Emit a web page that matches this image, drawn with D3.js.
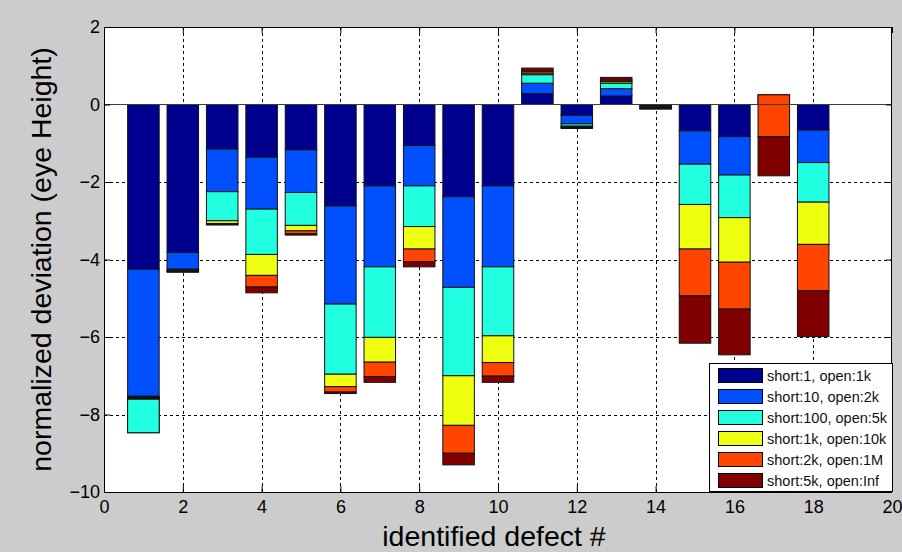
<!DOCTYPE html>
<html>
<head>
<meta charset="utf-8">
<script src="https://cdn.jsdelivr.net/npm/d3@7"></script>
<style>
  html, body { margin: 0; padding: 0; background: #cccccc; }
  svg { display: block; }
  text { font-family: "Liberation Sans", Arial, sans-serif; }
</style>
</head>
<body>
<svg id="chart" width="902" height="552"></svg>
<script>
// Defect indices (x positions of the stacked bars)
const defects = [1, 2, 3, 4, 5, 6, 7, 8, 9, 10, 11, 12, 13, 14, 15, 16, 17, 18];

// Series labels and their jet colours
const seriesNames = [
  "short:1, open:1k",
  "short:10, open:2k",
  "short:100, open:5k",
  "short:1k, open:10k",
  "short:2k, open:1M",
  "short:5k, open:Inf"
];
const seriesColors = ["#00008f", "#0050ff", "#20ffdf", "#efff10", "#ff4500", "#800000"];

// Per-series deviation values, one entry per defect (stacked cumulatively)
const s1 = [-4.25, -3.82, -1.15, -1.36, -1.17, -2.62, -2.10, -1.06, -2.38, -2.10, 0.28, -0.28, 0.22, -0.02, -0.68, -0.83, 0.25, -0.66];
const s2 = [-4.22, -0.43, -1.10, -1.34, -1.10, -2.53, -2.09, -1.04, -2.34, -2.09, 0.27, -0.22, 0.19, -0.02, -0.86, -0.99, 0.00, -0.84];
const s3 = [0.94, -0.02, -0.75, -1.17, -0.85, -1.81, -1.82, -1.05, -2.28, -1.78, 0.22, -0.06, 0.14, -0.02, -1.04, -1.10, 0.00, -1.02];
const s4 = [-0.025, -0.02, -0.07, -0.54, -0.14, -0.32, -0.64, -0.58, -1.28, -0.69, 0.04, -0.02, 0.04, -0.02, -1.15, -1.15, 0.00, -1.09];
const s5 = [-0.025, -0.02, -0.02, -0.30, -0.08, -0.14, -0.37, -0.33, -0.72, -0.35, 0.05, -0.02, 0.04, -0.02, -1.21, -1.21, -1.08, -1.20];
const s6 = [-0.025, -0.02, -0.02, -0.15, -0.03, -0.04, -0.15, -0.13, -0.30, -0.16, 0.08, -0.02, 0.07, -0.02, -1.22, -1.18, -1.01, -1.18];
const seriesValues = [s1, s2, s3, s4, s5, s6];

// Axis ticks
const xTicks = [0, 2, 4, 6, 8, 10, 12, 14, 16, 18, 20];
const yTicks = [-10, -8, -6, -4, -2, 0, 2];

const W = 902, H = 552;
const margin = { left: 104, top: 27, right: 10, bottom: 60 };
const plotW = W - margin.left - margin.right;
const plotH = H - margin.top - margin.bottom;

const svg = d3.select("#chart");
svg.append("rect").attr("width", W).attr("height", H).attr("fill", "#cccccc");

const x = d3.scaleLinear().domain([0, 20]).range([0, plotW]);
const y = d3.scaleLinear().domain([-10, 2]).range([plotH, 0]);

const g = svg.append("g").attr("transform", `translate(${margin.left},${margin.top})`);

// Axes background
g.append("rect").attr("width", plotW).attr("height", plotH).attr("fill", "#ffffff");

// Dotted grid
const grid = g.append("g").attr("stroke", "#000").attr("stroke-width", 1)
  .attr("stroke-dasharray", "3,3").attr("shape-rendering", "crispEdges");
grid.selectAll(".vg").data(xTicks.slice(1, -1)).join("line")
  .attr("x1", d => Math.round(x(d)) + 0.5).attr("x2", d => Math.round(x(d)) + 0.5)
  .attr("y1", 0).attr("y2", plotH);
grid.selectAll(".hg").data(yTicks.slice(1, -1)).join("line")
  .attr("y1", d => Math.round(y(d)) + 0.5).attr("y2", d => Math.round(y(d)) + 0.5)
  .attr("x1", 0).attr("x2", plotW);

// Stacked segments: each series patch spans the previous cumulative total to the new one
const segments = [];
defects.forEach((d, i) => {
  let cum = 0;
  seriesValues.forEach((vals, k) => {
    const start = cum;
    cum += vals[i];
    segments.push({ defect: d, k, y0: start, y1: cum });
  });
});

const barW = 0.8;
g.append("g").selectAll("rect").data(segments).join("rect")
  .attr("x", d => x(d.defect - barW / 2))
  .attr("width", x(barW) - x(0))
  .attr("y", d => y(Math.max(d.y0, d.y1)))
  .attr("height", d => Math.abs(y(d.y0) - y(d.y1)))
  .attr("fill", d => seriesColors[d.k])
  .attr("stroke", "#111")
  .attr("stroke-width", 1);

// Bar baseline at zero
g.append("line")
  .attr("x1", 0).attr("x2", plotW)
  .attr("y1", Math.round(y(0)) + 0.5).attr("y2", Math.round(y(0)) + 0.5)
  .attr("stroke", "#3c3c3c").attr("stroke-width", 1);

// Axes box with inward ticks on all sides
const xAxisB = d3.axisBottom(x).tickValues(xTicks).tickSize(-6).tickFormat(d3.format("d"));
const xAxisT = d3.axisTop(x).tickValues(xTicks).tickSize(-6).tickFormat("");
const yAxisL = d3.axisLeft(y).tickValues(yTicks).tickSize(-6).tickFormat(d3.format("d"));
const yAxisR = d3.axisRight(y).tickValues(yTicks).tickSize(-6).tickFormat("");

function styleAxis(sel) {
  sel.select(".domain").remove();
  sel.selectAll(".tick line").attr("stroke", "#000");
  sel.selectAll("text").attr("fill", "#000").style("font-size", "18px")
    .style("font-family", "'Liberation Sans', Arial, sans-serif");
}
g.append("g").attr("transform", `translate(0,${plotH})`).call(xAxisB).call(styleAxis)
  .selectAll("text").attr("dy", "0.95em").attr("y", 4);
g.append("g").call(xAxisT).call(styleAxis);
g.append("g").call(yAxisL).call(styleAxis).selectAll("text").attr("x", -4);
g.append("g").attr("transform", `translate(${plotW},0)`).call(yAxisR).call(styleAxis);

g.append("rect").attr("x", 0.5).attr("y", 0.5).attr("width", plotW - 1).attr("height", plotH)
  .attr("fill", "none").attr("stroke", "#000").attr("stroke-width", 1);

// Axis titles
svg.append("text")
  .attr("x", margin.left + plotW / 2 - 4).attr("y", 546)
  .attr("text-anchor", "middle").attr("fill", "#000")
  .style("font-size", "28.5px").text("identified defect #");
svg.append("text")
  .attr("transform", `translate(51,${margin.top + plotH / 2 + 0}) rotate(-90)`)
  .attr("text-anchor", "middle").attr("fill", "#000")
  .style("font-size", "28.5px").text("normalized deviation (eye Height)");

// Legend
const legX = 709, legY = 363, legW = 184, legH = 129;
const leg = svg.append("g");
leg.append("rect").attr("x", legX + 0.5).attr("y", legY + 0.5).attr("width", legW - 1).attr("height", legH - 1)
  .attr("fill", "#fff").attr("stroke", "#000");
const items = leg.selectAll(".item").data(seriesNames).join("g")
  .attr("transform", (d, i) => `translate(${legX + 9},${legY + 5 + i * 21})`);
items.append("rect").attr("x", 0.5).attr("y", 0.5).attr("width", 44).attr("height", 14)
  .attr("fill", (d, i) => seriesColors[i]).attr("stroke", "#000");
items.append("text").attr("x", 49).attr("y", 13).attr("fill", "#111")
  .style("font-size", "14.5px").text(d => d);
</script>
</body>
</html>
